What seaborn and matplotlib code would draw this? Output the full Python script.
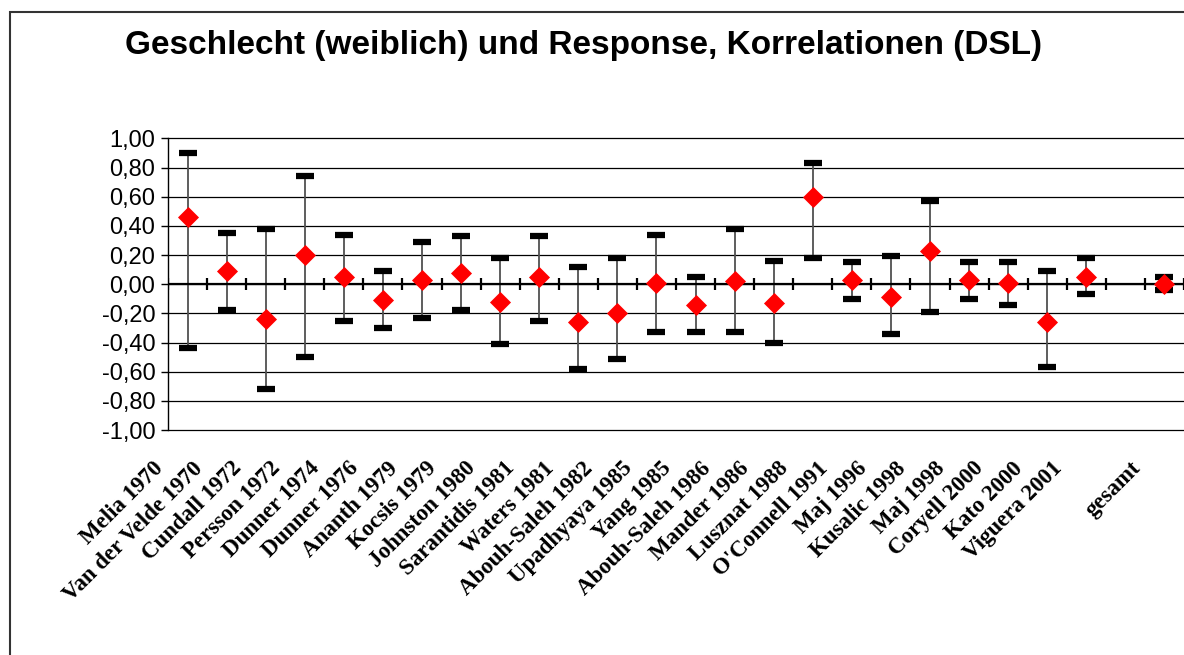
import numpy as np
import pandas as pd
import matplotlib
matplotlib.use("Agg")
import matplotlib.pyplot as plt
import matplotlib.transforms as mtransforms
from matplotlib.patches import Rectangle
import seaborn as sns

# studies (one empty slot before the pooled value, as in the original chart)
studies = ["Melia 1970", "Van der Velde 1970", "Cundall 1972", "Persson 1972",
           "Dunner 1974", "Dunner 1976", "Ananth 1979", "Kocsis 1979",
           "Johnston 1980", "Sarantidis 1981", "Waters 1981", "Abouh-Saleh 1982",
           "Upadhyaya 1985", "Yang 1985", "Abouh-Saleh 1986", "Mander 1986",
           "Lusznat 1988", "O'Connell 1991", "Maj 1996", "Kusalic 1998",
           "Maj 1998", "Coryell 2000", "Kato 2000", "Viguera 2001", "", "gesamt"]
r = [0.46, 0.09, -0.24, 0.20, 0.05, -0.11, 0.03, 0.08, -0.12, 0.05, -0.26, -0.20,
     0.01, -0.14, 0.02, -0.13, 0.60, 0.03, -0.09, 0.23, 0.03, 0.01, -0.26, 0.05,
     np.nan, 0.00]
upper = [0.90, 0.35, 0.38, 0.74, 0.34, 0.09, 0.29, 0.33, 0.18, 0.33, 0.12, 0.18,
         0.34, 0.05, 0.38, 0.16, 0.83, 0.15, 0.19, 0.57, 0.15, 0.15, 0.09, 0.18,
         np.nan, 0.05]
lower = [-0.44, -0.18, -0.72, -0.50, -0.25, -0.30, -0.235, -0.18, -0.41, -0.25, -0.58, -0.51,
         -0.33, -0.33, -0.33, -0.40, 0.18, -0.10, -0.345, -0.19, -0.10, -0.14, -0.57, -0.07,
         np.nan, -0.04]
yticks = [-1.0, -0.8, -0.6, -0.4, -0.2, 0.0, 0.2, 0.4, 0.6, 0.8, 1.0]
title = "Geschlecht (weiblich) und Response, Korrelationen (DSL)"

df = pd.DataFrame({"study": studies, "r": r, "upper": upper, "lower": lower})
df["pos"] = np.arange(len(df))

sns.set_style("white")
plt.rcParams["font.family"] = ["Liberation Sans", "DejaVu Sans"]
plt.rcParams["text.color"] = "black"
plt.rcParams["xtick.color"] = "black"
plt.rcParams["ytick.color"] = "black"

fig = plt.figure(figsize=(11.84, 6.55), dpi=100)
ax = fig.add_axes([168 / 1184, 0.3435, 1 - 168 / 1184, 0.4453])

# gridlines
ax.set_ylim(-1, 1)
ax.set_yticks(yticks)
ax.set_yticklabels([f"{round(v, 2) + 0:.2f}".replace(".", ",") for v in yticks], fontsize=17)
ax.yaxis.grid(True, color="black", lw=0.9)
for gl in ax.get_ygridlines():
    gl.set_clip_on(False)
ax.set_axisbelow(True)

# confidence intervals
eb = ax.errorbar(df["pos"], df["r"], yerr=[df["r"] - df["lower"], df["upper"] - df["r"]],
                 fmt="none", ecolor="#505050", elinewidth=1.3, capsize=6.5, capthick=4.5, zorder=2)
for cap in eb[1]:
    cap.set_color("black")
    cap.set_markeredgecolor("black")

# zero axis with category ticks
ax.axhline(0, color="black", lw=1.6, zorder=3)
bounds = np.arange(len(df) + 1) - 0.5
ax.plot(bounds, np.zeros_like(bounds), ls="none", marker="|", ms=8, mew=1.6, color="black", zorder=3)

# point estimates
sns.scatterplot(data=df, x="pos", y="r", marker="D", s=115, color="red", edgecolor="red",
                linewidth=0, zorder=4, ax=ax, legend=False)

ax.set_xlim(-0.5, len(df) - 0.5)
ax.set_xticks(df["pos"])
ax.set_xticklabels(df["study"], rotation=45, ha="right", fontfamily="Liberation Serif",
                   fontweight="bold", fontsize=16.5, color="black")
ax.tick_params(axis="x", length=0, pad=20)
ax.tick_params(axis="y", length=5, width=1, color="black", direction="out", left=True, pad=4)
shift = mtransforms.ScaledTranslation(-0.2, 0, fig.dpi_scale_trans)
for lbl in ax.get_xticklabels():
    lbl.set_transform(lbl.get_transform() + shift)
ax.set_xlabel("")
ax.set_ylabel("")

for s in ["top", "right", "bottom"]:
    ax.spines[s].set_visible(False)
ax.spines["left"].set_color("black")
ax.spines["left"].set_linewidth(1)

fig.text(0.493, 0.93, title, ha="center", va="center", fontsize=24, fontweight="bold", color="black")

# chart frame
fig.add_artist(Rectangle((10 / 1184, -0.1), 1.2, (1 - 12 / 655) + 0.1, transform=fig.transFigure,
                         fill=False, ec="#333333", lw=1.5))

fig.savefig("out.png", dpi=100)
